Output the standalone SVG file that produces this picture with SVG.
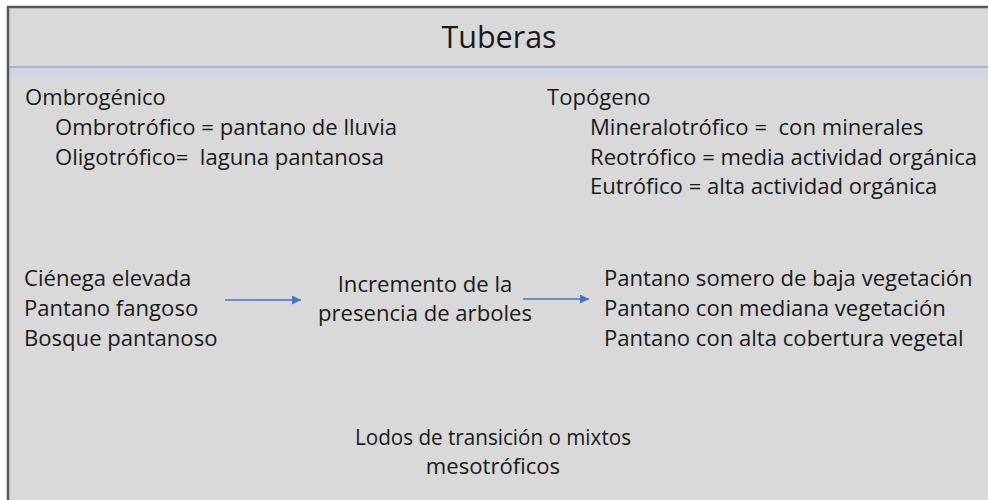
<svg xmlns="http://www.w3.org/2000/svg" width="988" height="500" viewBox="0 0 988 500">
<style>
text{font-family:"Open Sans","Liberation Sans",sans-serif;fill:#1a1a1a;font-size:22.1px}
.title{font-size:30.5px}
.mid{text-anchor:middle}
.conn{stroke:#4472c4;stroke-width:1.5;fill:none}
</style>
<defs>
<marker id="ah" viewBox="0 0 10 10" refX="10" refY="5" markerWidth="10" markerHeight="9" markerUnits="userSpaceOnUse" orient="auto">
<path d="M0,0 L10,5 L0,10 z" fill="#4472c4"/>
</marker>
<linearGradient id="band" x1="0" y1="0" x2="0" y2="1">
<stop offset="0" stop-color="#cdd7e2"/>
<stop offset="1" stop-color="#d9d9d9"/>
</linearGradient>
</defs>
<rect x="0" y="0" width="988" height="500" fill="#ffffff"/>
<rect x="7" y="6" width="981" height="494" fill="#d9d9d9"/>
<rect x="9" y="68" width="979" height="14" fill="url(#band)"/>
<line x1="9" y1="67" x2="988" y2="67" stroke="#a8b5c3" stroke-width="2"/>
<path d="M8,500 V7 H988" fill="none" stroke="#595959" stroke-width="2.5"/>
<g id="title"><text class="title mid" x="499" y="48">Tuberas</text></g>
<g id="ombrogenico">
<text x="25" y="105">Ombrogénico</text>
<text x="55" y="135">Ombrotrófico = pantano de lluvia</text>
<text x="55" y="165" xml:space="preserve">Oligotrófico=  laguna pantanosa</text>
</g>
<g id="topogeno">
<text x="547" y="105">Topógeno</text>
<text x="590" y="135" xml:space="preserve">Mineralotrófico =  con minerales</text>
<text x="590" y="165">Reotrófico = media actividad orgánica</text>
<text x="590" y="194">Eutrófico = alta actividad orgánica</text>
</g>
<g id="tipos">
<text x="24" y="286">Ciénega elevada</text>
<text x="24" y="316">Pantano fangoso</text>
<text x="24" y="346">Bosque pantanoso</text>
</g>
<g id="incremento">
<text class="mid" x="425" y="292">Incremento de la</text>
<text class="mid" x="425" y="321">presencia de arboles</text>
</g>
<g id="pantanos">
<text x="604" y="286">Pantano somero de baja vegetación</text>
<text x="604" y="316">Pantano con mediana vegetación</text>
<text x="604" y="346">Pantano con alta cobertura vegetal</text>
</g>
<g id="lodos">
<text class="mid" x="493" y="445" textLength="276" lengthAdjust="spacingAndGlyphs">Lodos de transición o mixtos</text>
<text class="mid" x="493" y="474">mesotróficos</text>
</g>
<g id="connectors">
<line class="conn" x1="225" y1="300" x2="301" y2="300" marker-end="url(#ah)"/>
<line class="conn" x1="523" y1="299" x2="589" y2="299" marker-end="url(#ah)"/>
</g>
</svg>
